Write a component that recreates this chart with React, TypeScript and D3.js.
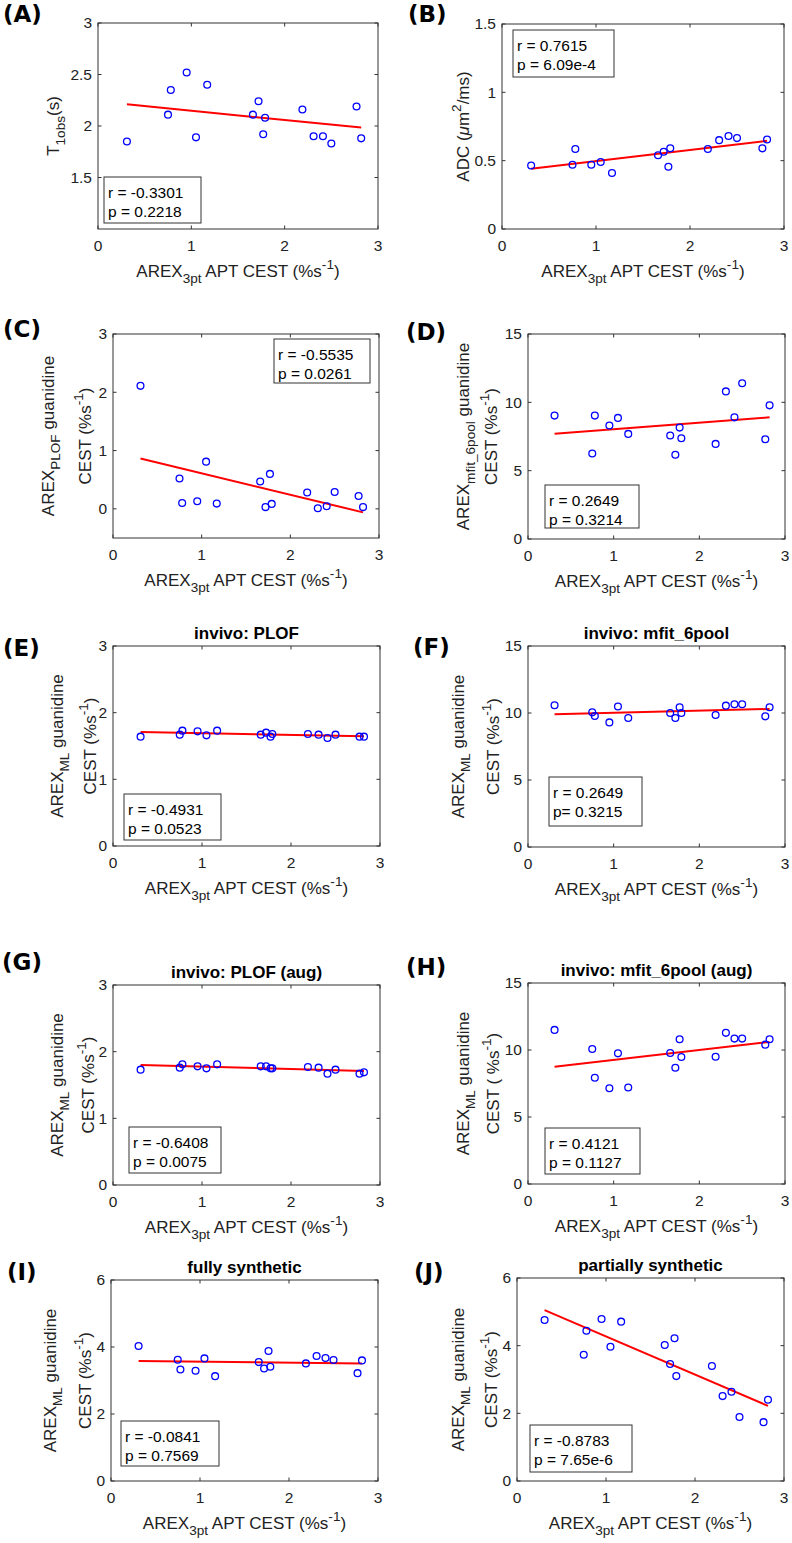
import React from 'react';
import * as d3 from 'd3';

// AREX_3pt APT CEST (%s^-1), shared x for every panel
const arexAPT = [0.31, 0.75, 0.78, 0.95, 1.05, 1.17, 1.66, 1.72, 1.77, 1.79, 2.19, 2.31, 2.41, 2.50, 2.77, 2.82];

const t1obs = [1.85, 2.11, 2.35, 2.52, 1.89, 2.40, 2.11, 2.24, 1.92, 2.08, 2.16, 1.90, 1.90, 1.83, 2.19, 1.88];
const adc = [0.465, 0.47, 0.585, 0.47, 0.49, 0.41, 0.54, 0.565, 0.455, 0.59, 0.585, 0.65, 0.68, 0.665, 0.59, 0.655];
const arexPLOF = [2.11, 0.52, 0.10, 0.13, 0.81, 0.09, 0.47, 0.03, 0.60, 0.085, 0.28, 0.01, 0.045, 0.29, 0.22, 0.03];
const arexMfit = [9.03, 6.26, 9.03, 8.30, 8.86, 7.69, 7.57, 6.16, 8.15, 7.37, 6.96, 10.8, 8.9, 11.4, 7.3, 9.78];
const mlInvivoPLOF = [1.64, 1.67, 1.73, 1.72, 1.66, 1.73, 1.67, 1.70, 1.64, 1.68, 1.68, 1.67, 1.62, 1.67, 1.64, 1.64];
const mlInvivoMfit = [10.58, 10.05, 9.78, 9.3, 10.48, 9.63, 10.0, 9.63, 10.43, 10.0, 9.85, 10.55, 10.65, 10.65, 9.75, 10.43];
const mlPLOFAug = [1.73, 1.76, 1.81, 1.78, 1.75, 1.81, 1.78, 1.78, 1.75, 1.75, 1.77, 1.76, 1.67, 1.73, 1.67, 1.69];
const mlMfitAug = [11.5, 10.08, 7.93, 7.15, 9.75, 7.2, 9.78, 8.68, 10.8, 9.48, 9.5, 11.28, 10.85, 10.85, 10.4, 10.8];
const mlFullySynth = [4.03, 3.62, 3.33, 3.29, 3.66, 3.13, 3.55, 3.36, 3.88, 3.41, 3.51, 3.73, 3.67, 3.61, 3.22, 3.60];
const mlPartSynth = [4.76, 3.73, 4.44, 4.79, 3.97, 4.71, 4.02, 3.46, 4.22, 3.10, 3.40, 2.51, 2.64, 1.89, 1.74, 2.40];

// fitted line value at min x and max x, per panel A..J
const fitLines = [
  [2.21, 1.985], [0.44, 0.645], [0.865, -0.06], [7.7, 8.9], [1.71, 1.645],
  [9.9, 10.3], [1.80, 1.71], [8.75, 10.6], [3.58, 3.51], [5.05, 2.22],
];
const statsR = ['r = -0.3301', 'r = 0.7615', 'r = -0.5535', 'r = 0.2649', 'r = -0.4931', 'r = 0.2649', 'r = -0.6408', 'r = 0.4121', 'r = -0.0841', 'r = -0.8783'];
const statsP = ['p = 0.2218', 'p = 6.09e-4', 'p = 0.0261', 'p = 0.3214', 'p = 0.0523', 'p= 0.3215', 'p = 0.0075', 'p = 0.1127', 'p = 0.7569', 'p = 7.65e-6'];
const panelTags = ['(A)', '(B)', '(C)', '(D)', '(E)', '(F)', '(G)', '(H)', '(I)', '(J)'];
const titles = [null, null, null, null, 'invivo: PLOF', 'invivo: mfit_6pool', 'invivo: PLOF (aug)', 'invivo: mfit_6pool (aug)', 'fully synthetic', 'partially synthetic'];
const xTicks = [0, 1, 2, 3];

type Part = { t: string; sub?: boolean; sup?: boolean; it?: boolean };

const FONT = '"Liberation Sans", Arial, Helvetica, sans-serif';
const LABEL = 17;
const TICK = 15.5;

const cest: Part[] = [{ t: 'CEST (%s' }, { t: '-1', sup: true }, { t: ')' }];
const cestH: Part[] = [{ t: 'CEST ( %s' }, { t: '-1', sup: true }, { t: ')' }];
const arexML: Part[] = [{ t: 'AREX' }, { t: 'ML', sub: true }, { t: ' guanidine' }];
const xLabel: Part[] = [{ t: 'AREX' }, { t: '3pt', sub: true }, { t: ' APT CEST (%s' }, { t: '-1', sup: true }, { t: ')' }];

const renderParts = (parts: Part[], size: number) => {
  let shift = 0;
  return parts.map((p, i) => {
    const target = p.sub ? size * 0.36 : p.sup ? -size * 0.45 : 0;
    const dy = target - shift;
    shift = target;
    return (
      <tspan key={i} dy={dy} fontSize={p.sub || p.sup ? size * 0.8 : size} fontStyle={p.it ? 'italic' : undefined}>
        {p.t}
      </tspan>
    );
  });
};

const panels = [
  { values: t1obs, left: 98, right: 378, top: 23, bottom: 229, yDomain: [1, 3], yTicks: [1.5, 2, 2.5, 3], tag: [3, 22],
    yLabels: [[{ t: 'T' }, { t: '1obs', sub: true }, { t: '(s)' }]], yLabelX: [53], box: [104, 201, 177, 223] },
  { values: adc, left: 502, right: 784, top: 24, bottom: 229, yDomain: [0, 1.5], yTicks: [0, 0.5, 1, 1.5], tag: [408, 22],
    yLabels: [[{ t: 'ADC (' }, { t: 'μ', it: true }, { t: 'm' }, { t: '2', sup: true }, { t: '/ms)' }]], yLabelX: [463], box: [513, 614, 30, 77] },
  { values: arexPLOF, left: 113, right: 379, top: 334, bottom: 538, yDomain: [-0.5, 3], yTicks: [0, 1, 2, 3], tag: [3, 337],
    yLabels: [[{ t: 'AREX' }, { t: 'PLOF', sub: true }, { t: ' guanidine' }], cest], yLabelX: [48, 85], box: [274, 370, 339, 383] },
  { values: arexMfit, left: 528, right: 785, top: 334, bottom: 539, yDomain: [0, 15], yTicks: [0, 5, 10, 15], tag: [406, 340],
    yLabels: [[{ t: 'AREX' }, { t: 'mfit_6pool', sub: true }, { t: ' guanidine' }], cest], yLabelX: [463, 491], box: [545, 639, 485, 528] },
  { values: mlInvivoPLOF, left: 113, right: 380, top: 646, bottom: 846, yDomain: [0, 3], yTicks: [0, 1, 2, 3], tag: [3, 656],
    yLabels: [arexML, cest], yLabelX: [57, 90], box: [124, 221, 794, 840] },
  { values: mlInvivoMfit, left: 528, right: 785, top: 646, bottom: 847, yDomain: [0, 15], yTicks: [0, 5, 10, 15], tag: [413, 655],
    yLabels: [arexML, cest], yLabelX: [458, 493], box: [549, 642, 777, 826] },
  { values: mlPLOFAug, left: 113, right: 380, top: 985, bottom: 1185, yDomain: [0, 3], yTicks: [0, 1, 2, 3], tag: [2, 970],
    yLabels: [arexML, cest], yLabelX: [57, 88], box: [129, 221, 1127, 1173] },
  { values: mlMfitAug, left: 528, right: 785, top: 983, bottom: 1184, yDomain: [0, 15], yTicks: [0, 5, 10, 15], tag: [406, 975],
    yLabels: [arexML, cestH], yLabelX: [463, 493], box: [545, 640, 1128, 1174] },
  { values: mlFullySynth, left: 111, right: 378, top: 1280, bottom: 1481, yDomain: [0, 6], yTicks: [0, 2, 4, 6], tag: [7, 1280],
    yLabels: [arexML, cest], yLabelX: [50, 85], box: [121, 219, 1421, 1466] },
  { values: mlPartSynth, left: 517, right: 784, top: 1278, bottom: 1481, yDomain: [0, 6], yTicks: [0, 2, 4, 6], tag: [414, 1280],
    yLabels: [arexML, cest], yLabelX: [458, 491], box: [530, 632, 1425, 1472] },
];

function Panel({ p, i }: { p: any; i: number }) {
  const x = d3.scaleLinear().domain([0, 3]).range([p.left, p.right]);
  const y = d3.scaleLinear().domain(p.yDomain).range([p.bottom, p.top]);
  const xs = d3.extent(arexAPT) as [number, number];
  const fit = fitLines[i];
  const line = d3.line<[number, number]>().x(d => x(d[0])).y(d => y(d[1]));
  const cy = (p.top + p.bottom) / 2;
  const tl = 3.5;
  const [bx0, bx1, by0, by1] = p.box;
  const title = titles[i];

  return (
    <g>
      <text x={p.tag[0]} y={p.tag[1]} fontFamily='"DejaVu Sans", Verdana, sans-serif' fontWeight="bold" fontSize={23} fill="#000">
        {panelTags[i]}
      </text>
      {title && (
        <text x={(p.left + p.right) / 2} y={p.top - 13} dy="0.35em" textAnchor="middle" fontFamily={FONT} fontWeight="bold" fontSize={LABEL} fill="#000">
          {title}
        </text>
      )}
      <rect x={p.left} y={p.top} width={p.right - p.left} height={p.bottom - p.top} fill="#fff" stroke="#333" strokeWidth={1} />
      {xTicks.map(t => (
        <g key={'xt' + t}>
          <line x1={x(t)} x2={x(t)} y1={p.bottom} y2={p.bottom - tl} stroke="#333" />
          <line x1={x(t)} x2={x(t)} y1={p.top} y2={p.top + tl} stroke="#333" />
          <text x={x(t)} y={p.bottom + 17} dy="0.35em" textAnchor="middle" fontFamily={FONT} fontSize={TICK} fill="#222">{t}</text>
        </g>
      ))}
      {p.yTicks.map((t: number) => (
        <g key={'yt' + t}>
          <line x1={p.left} x2={p.left + tl} y1={y(t)} y2={y(t)} stroke="#333" />
          <line x1={p.right} x2={p.right - tl} y1={y(t)} y2={y(t)} stroke="#333" />
          <text x={p.left - 6} y={y(t)} dy="0.35em" textAnchor="end" fontFamily={FONT} fontSize={TICK} fill="#222">{String(t)}</text>
        </g>
      ))}
      <text x={(p.left + p.right) / 2} y={p.bottom + 48} textAnchor="middle" fontFamily={FONT} fontSize={LABEL} fill="#222" style={{ whiteSpace: 'pre' }}>
        {renderParts(xLabel, LABEL)}
      </text>
      {p.yLabels.map((parts: Part[], k: number) => (
        <text key={'yl' + k} transform={`translate(${p.yLabelX[k] + 6},${cy}) rotate(-90)`} textAnchor="middle" fontFamily={FONT} fontSize={LABEL} fill="#222" style={{ whiteSpace: 'pre' }}>
          {renderParts(parts, LABEL)}
        </text>
      ))}
      <path d={line([[xs[0], fit[0]], [xs[1], fit[1]]]) || ''} stroke="#ff0000" strokeWidth={2} fill="none" />
      {arexAPT.map((xv, j) => (
        <circle key={j} cx={x(xv)} cy={y(p.values[j])} r={3.4} fill="none" stroke="#0000ff" strokeWidth={1.3} />
      ))}
      <rect x={bx0} y={by0} width={bx1 - bx0} height={by1 - by0} fill="#fff" stroke="#333" strokeWidth={1} />
      <text x={bx0 + 4} y={by0 + 16} dy="0.35em" fontFamily={FONT} fontSize={TICK} fill="#000" style={{ whiteSpace: 'pre' }}>{statsR[i]}</text>
      <text x={bx0 + 4} y={by0 + 35} dy="0.35em" fontFamily={FONT} fontSize={TICK} fill="#000" style={{ whiteSpace: 'pre' }}>{statsP[i]}</text>
    </g>
  );
}

export default function App() {
  return (
    <svg width={792} height={1543} style={{ position: 'absolute', left: 0, top: 0, background: '#fff' }}>
      <rect width={792} height={1543} fill="#fff" />
      {panels.map((p, i) => <Panel key={i} p={p} i={i} />)}
    </svg>
  );
}
